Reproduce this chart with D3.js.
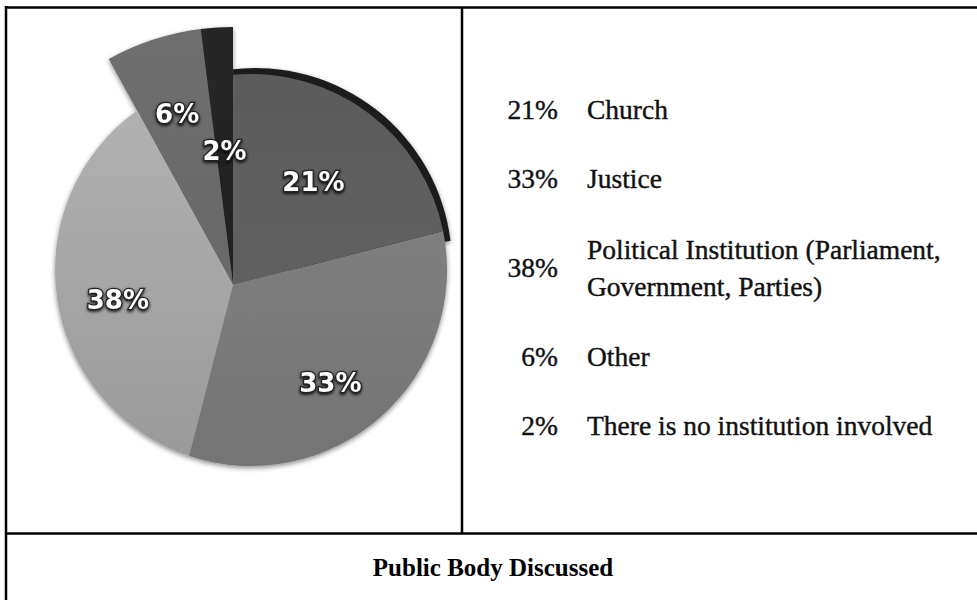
<!DOCTYPE html>
<html>
<head>
<meta charset="utf-8">
<script src="https://cdn.jsdelivr.net/npm/d3@7"></script>
<style>
  html, body { margin: 0; padding: 0; background: #fff; }
  svg { display: block; }
</style>
</head>
<body>
<svg id="chart" width="977" height="600"></svg>
<script>
// ---- data ----
const categories = ["Church", "Justice", "Political Institution (Parliament, Government, Parties)", "Other", "There is no institution involved"];
const values = [21, 33, 38, 6, 2];
const legendLines = [["Church"], ["Justice"], ["Political Institution (Parliament,", "Government, Parties)"], ["Other"], ["There is no institution involved"]];
const percentLabels = ["21%", "33%", "38%", "6%", "2%"];
const title = "Public Body Discussed";

// ---- layout / style ----
const W = 977, H = 600;
const colorsTop = ["#5a5a5a", "#878787", "#b6b6b6", "#6e6e6e", "#262626"];
const colorsBot = ["#676767", "#747474", "#999999", "#656565", "#1e1e1e"];
const apex = [233, 285];          // visible meeting point of slices
const rim = [251, 270], R = 196;  // outline circle of the tilted pie face
const pulledRadius = 258;         // pulled-up slices (Other, None)
const pulled = [false, false, false, true, true];
const labelFrac = [0.6, 0.7, 0.66, 0.7, 0.52];

const svg = d3.select("#chart");
const defs = svg.append("defs");

const shadow = defs.append("filter").attr("id", "pieShadow")
  .attr("x", "-20%").attr("y", "-20%").attr("width", "140%").attr("height", "140%");
shadow.append("feDropShadow").attr("dx", 0).attr("dy", 2).attr("stdDeviation", 2.5)
  .attr("flood-color", "#000").attr("flood-opacity", 0.45);

const txtShadow = defs.append("filter").attr("id", "txtShadow")
  .attr("x", "-30%").attr("y", "-30%").attr("width", "160%").attr("height", "160%");
txtShadow.append("feDropShadow").attr("dx", 0).attr("dy", 1.5).attr("stdDeviation", 1.6)
  .attr("flood-color", "#000").attr("flood-opacity", 0.9);

values.forEach((v, i) => {
  const g = defs.append("linearGradient").attr("id", "grad" + i)
    .attr("gradientUnits", "userSpaceOnUse")
    .attr("x1", 0).attr("y1", 40).attr("x2", 0).attr("y2", 470);
  g.append("stop").attr("offset", "0%").attr("stop-color", colorsTop[i]);
  g.append("stop").attr("offset", "100%").attr("stop-color", colorsBot[i]);
});

const pie = d3.pie().sort(null).value(d => d)(values);

function dir(a) { return [Math.sin(a), -Math.cos(a)]; }
function hitCircle(p, a, c, r) {
  const d = dir(a);
  const wx = p[0] - c[0], wy = p[1] - c[1];
  const b = wx * d[0] + wy * d[1];
  const cc = wx * wx + wy * wy - r * r;
  const t = -b + Math.sqrt(b * b - cc);
  return [p[0] + t * d[0], p[1] + t * d[1], t];
}
function slicePath(a0, a1, p, c, r) {
  const P0 = hitCircle(p, a0, c, r), P1 = hitCircle(p, a1, c, r);
  const f0 = Math.atan2(P0[1] - c[1], P0[0] - c[0]);
  const f1 = Math.atan2(P1[1] - c[1], P1[0] - c[0]);
  const path = d3.path();
  path.moveTo(p[0], p[1]);
  path.lineTo(P0[0], P0[1]);
  path.arc(c[0], c[1], r, f0, f1, false);
  path.closePath();
  return path.toString();
}
function geom(i) {
  return pulled[i] ? { p: apex, c: apex, r: pulledRadius } : { p: apex, c: rim, r: R };
}

const pieG = svg.append("g").attr("filter", "url(#pieShadow)");

// dark side edge of the Church slice (drawn first, mostly hidden)
{
  const s = pie[0];
  const off = [4, -5];
  pieG.append("path")
    .attr("d", slicePath(s.startAngle - 0.03, s.endAngle + 0.07, [apex[0] + off[0], apex[1] + off[1]], [rim[0] + off[0], rim[1] + off[1]], R + 1))
    .attr("fill", "#1c1c1c");
}
const order = [3, 4, 2, 1, 0];
order.forEach(i => {
  const s = pie[i], g = geom(i);
  pieG.append("path")
    .attr("d", slicePath(s.startAngle, s.endAngle, g.p, g.c, g.r))
    .attr("fill", `url(#grad${i})`);
});

// percentage labels on the pie
pie.forEach((s, i) => {
  const g = geom(i);
  const mid = (s.startAngle + s.endAngle) / 2;
  const hit = hitCircle(g.p, mid, g.c, g.r);
  const t = hit[2] * labelFrac[i];
  const d = dir(mid);
  svg.append("text")
    .attr("x", g.p[0] + d[0] * t)
    .attr("y", g.p[1] + d[1] * t)
    .attr("dy", "0.36em")
    .attr("text-anchor", "middle")
    .attr("font-family", "DejaVu Sans, sans-serif")
    .attr("font-weight", "bold")
    .attr("font-size", 26)
    .attr("fill", "#fff")
    .attr("stroke", "#222")
    .attr("stroke-width", 2.4)
    .attr("paint-order", "stroke")
    .attr("filter", "url(#txtShadow)")
    .text(percentLabels[i]);
});

// legend (right cell)
const lg = svg.append("g")
  .attr("font-family", "Liberation Serif, Times New Roman, serif")
  .attr("font-size", 27.5)
  .attr("fill", "#111")
  .attr("stroke", "#111")
  .attr("stroke-width", 0.4);
let y = 119;
legendLines.forEach((lines, i) => {
  if (i > 0) {
    y += 69 + (lines.length > 1 ? 20 : 0) + (legendLines[i - 1].length > 1 ? 20 : 0);
  }
  lg.append("text").attr("x", 558).attr("y", y).attr("text-anchor", "end")
    .text(values[i] + "%");
  const lh = 37;
  const y0 = y - (lines.length - 1) * lh / 2;
  lines.forEach((ln, k) => {
    lg.append("text").attr("x", 587).attr("y", y0 + k * lh).text(ln);
  });
});

// table borders
const border = svg.append("g").attr("stroke", "#000").attr("stroke-width", 2.5);
border.append("line").attr("x1", 6).attr("y1", 7.5).attr("x2", W).attr("y2", 7.5);
border.append("line").attr("x1", 6).attr("y1", 6).attr("x2", 6).attr("y2", H);
border.append("line").attr("x1", 462).attr("y1", 7).attr("x2", 462).attr("y2", 533);
border.append("line").attr("x1", 6).attr("y1", 533.5).attr("x2", W).attr("y2", 533.5);

// title cell
svg.append("text")
  .attr("x", 493).attr("y", 576)
  .attr("text-anchor", "middle")
  .attr("font-family", "Liberation Serif, Times New Roman, serif")
  .attr("font-weight", "bold")
  .attr("font-size", 25)
  .attr("fill", "#000")
  .text(title);
</script>
</body>
</html>
